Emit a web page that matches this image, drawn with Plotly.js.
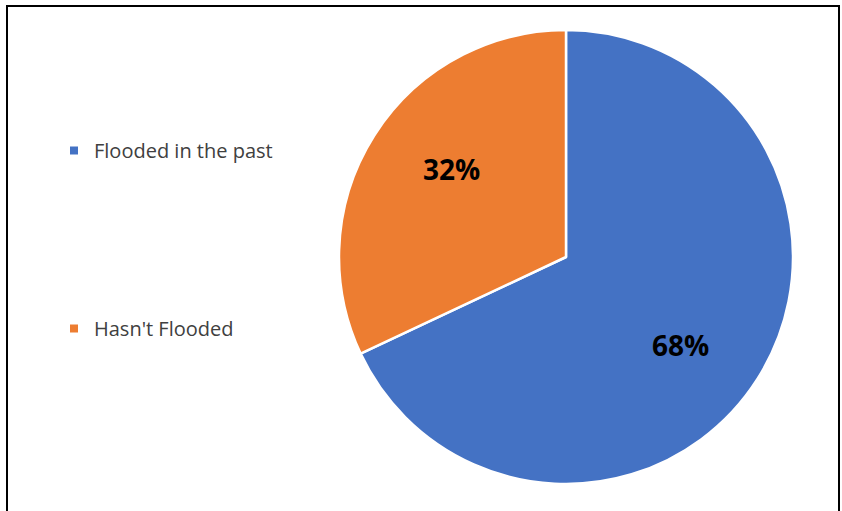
<!DOCTYPE html>
<html>
<head>
<meta charset="utf-8">
<script src="https://cdn.plot.ly/plotly-3.0.1.min.js"></script>
<style>
  html, body { margin: 0; padding: 0; background: #fff; }
  #chart { width: 842px; height: 511px; }
</style>
</head>
<body>
<div id="chart"></div>
<script>
const categories = ["Flooded in the past", "Hasn't Flooded"];
const values = [68, 32];
const colors = ["#4472C4", "#ED7D31"];

const W = 842, H = 511;
const cx = 566, cy = 257, r = 227;

const traces = [{
  type: 'pie',
  labels: categories,
  values: values,
  sort: false,
  direction: 'clockwise',
  rotation: 0,
  showlegend: false,
  textinfo: 'none',
  marker: { colors: colors, line: { color: '#ffffff', width: 2.5 } },
  domain: { x: [(cx - r) / W, (cx + r) / W], y: [1 - (cy + r) / H, 1 - (cy - r) / H] },
  hoverinfo: 'label+percent'
}];

categories.forEach((c, i) => {
  traces.push({
    type: 'scatter',
    mode: 'markers',
    x: [null], y: [null],
    name: c,
    legendgroup: 'g' + i,
    marker: { symbol: 'square', size: 8, color: colors[i] },
    hoverinfo: 'skip'
  });
});

// data labels placed along each slice's bisector (Excel-like best fit)
const total = values.reduce((a, b) => a + b, 0);
const annotations = [];
let acc = 0;
values.forEach((v, i) => {
  const mid = (acc + v / 2) / total * 2 * Math.PI + 5 * Math.PI / 180;
  acc += v;
  const f = 0.635;
  const px = cx + f * r * Math.sin(mid);
  const py = cy - f * r * Math.cos(mid);
  annotations.push({
    xref: 'paper', yref: 'paper',
    x: px / W, y: 1 - py / H,
    xanchor: 'center', yanchor: 'middle',
    showarrow: false,
    text: Math.round(v / total * 100) + '%',
    font: { family: 'Open Sans, sans-serif', size: 28, color: '#000', weight: 'bold' }
  });
});

const layout = {
  width: W, height: H,
  margin: { l: 0, r: 0, t: 0, b: 0 },
  paper_bgcolor: '#fff',
  plot_bgcolor: 'rgba(0,0,0,0)',
  xaxis: { visible: false },
  yaxis: { visible: false },
  showlegend: true,
  legend: {
    x: 54 / W, xanchor: 'left',
    y: 1 - 131 / H, yanchor: 'top',
    traceorder: 'grouped',
    tracegroupgap: 149,
    font: { family: 'Open Sans, sans-serif', size: 20, color: '#404040' },
    bgcolor: 'rgba(0,0,0,0)'
  },
  annotations: annotations,
  shapes: [{
    type: 'rect', xref: 'paper', yref: 'paper',
    x0: 7 / W, x1: 839 / W, y0: -0.05, y1: 1 - 6 / H,
    line: { color: '#000', width: 2 }
  }]
};

Plotly.newPlot('chart', traces, layout, { displayModeBar: false, staticPlot: true });
</script>
</body>
</html>
